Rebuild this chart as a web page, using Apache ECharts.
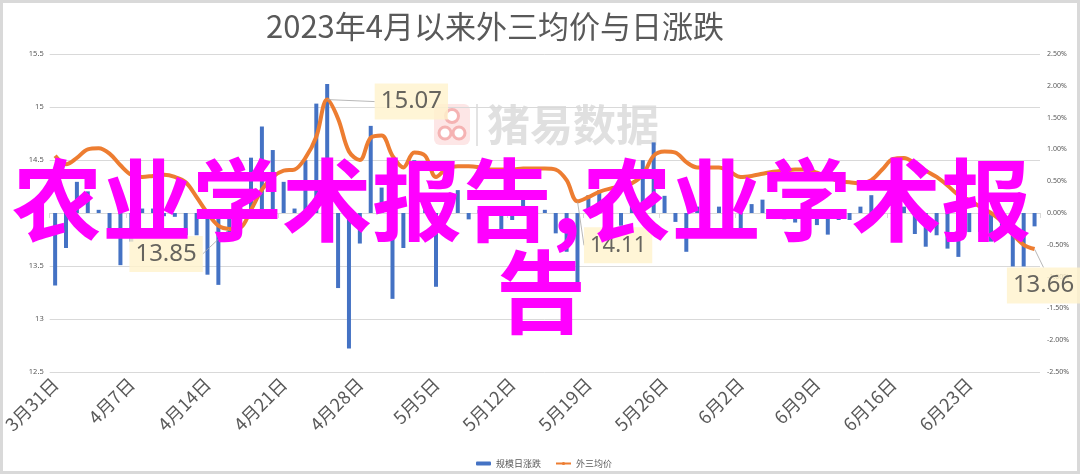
<!DOCTYPE html>
<html>
<head>
<meta charset="utf-8">
<script src="https://cdn.jsdelivr.net/npm/echarts@6/dist/echarts.min.js"></script>
<style>
html,body{margin:0;padding:0;background:#fff;}
#chart{width:1080px;height:474px;}
</style>
</head>
<body>
<div id="chart"></div>
<script>
// ---- data ----
const categories = [
  '3月31日',
  '4月1日','4月2日','4月3日','4月4日','4月5日','4月6日','4月7日','4月8日','4月9日','4月10日',
  '4月11日','4月12日','4月13日','4月14日','4月15日','4月16日','4月17日','4月18日','4月19日','4月20日',
  '4月21日','4月22日','4月23日','4月24日','4月25日','4月26日','4月27日','4月28日','4月29日','4月30日',
  '5月1日','5月2日','5月3日','5月4日','5月5日','5月6日','5月7日','5月8日','5月9日','5月10日',
  '5月11日','5月12日','5月13日','5月14日','5月15日','5月16日','5月17日','5月18日','5月19日','5月20日',
  '5月21日','5月22日','5月23日','5月24日','5月25日','5月26日','5月27日','5月28日','5月29日','5月30日','5月31日',
  '6月1日','6月2日','6月3日','6月4日','6月5日','6月6日','6月7日','6月8日','6月9日','6月10日',
  '6月11日','6月12日','6月13日','6月14日','6月15日','6月16日','6月17日','6月18日','6月19日','6月20日',
  '6月21日','6月22日','6月23日','6月24日','6月25日','6月26日','6月27日','6月28日','6月29日'
];
// 外三均价 (元/公斤)
const priceAvg = [
  14.54,14.46,14.52,14.60,14.61,14.56,14.45,14.36,14.34,14.35,
  14.36,14.34,14.29,14.15,14.00,13.88,13.85,13.86,14.03,14.22,
  14.34,14.40,14.41,14.52,14.72,15.07,14.89,14.58,14.50,14.71,
  14.73,14.54,14.43,14.57,14.54,14.34,14.42,14.44,14.44,14.43,
  14.41,14.41,14.41,14.42,14.42,14.42,14.41,14.31,14.11,14.15,
  14.20,14.23,14.25,14.28,14.36,14.54,14.58,14.57,14.48,14.43,
  14.43,14.43,14.39,14.34,14.35,14.37,14.39,14.40,14.41,14.41,
  14.38,14.34,14.30,14.29,14.28,14.31,14.41,14.51,14.52,14.47,
  14.40,14.34,14.26,14.17,14.12,14.06,14.00,13.92,13.80,13.70,
  13.66
];
// 规模日涨跌 (%)
const dailyChange = [
  -1.14,-0.55,0.49,0.34,0.05,-0.35,-0.82,-0.45,0.07,0.07,
  -0.05,-0.06,-0.35,-0.35,-0.97,-1.13,-0.30,0.20,0.87,1.36,
  0.99,0.49,0.07,0.83,1.72,2.03,-1.18,-2.13,-0.48,1.37,
  0.40,-1.35,-0.55,0.83,0.20,-1.16,0.20,0.36,-0.10,0.05,
  0.07,-0.27,-0.11,0.30,0.10,0.05,-0.32,-0.61,-1.24,0.28,
  0.36,0.14,-0.20,0.30,0.83,1.11,0.27,-0.14,-0.61,0.10,
  -0.20,0.10,-0.27,-0.27,0.14,0.21,0.05,-0.10,-0.15,0.05,
  -0.19,-0.34,-0.11,-0.11,0.10,0.28,0.15,0.62,0.10,-0.33,
  -0.53,-0.35,-0.56,-0.69,-0.30,-0.30,-0.45,-0.30,-0.84,-0.84,
  -0.21
];
const labeledDays = ['4月25日','4月16日','5月18日','6月29日'];
const seriesNames = ['规模日涨跌','外三均价'];
const titleText = '2023年4月以来外三均价与日涨跌';
const watermarkText = '猪易数据';
const overlayLine1 = '农业学术报告,农业学术报';
const overlayLine2 = '告';

// ---- chart ----
const chart = echarts.init(document.getElementById('chart'), null, {renderer: 'canvas'});
const CJK = '"Noto Sans CJK SC", "Noto Sans", sans-serif';
const axisText = '#595959';
const gridColor = '#d9d9d9';

const labelStyles = [
  {position: 'right', fontSize: 24, dx: 42, dy: 2},
  {position: 'left', fontSize: 24, dx: -21, dy: 25},
  {position: 'right', fontSize: 22, dx: 1, dy: 44},
  {position: 'bottom', fontSize: 24, dx: 9, dy: 13}
];

const annotData = labeledDays.map((d, k) => ({
  value: [d, priceAvg[categories.indexOf(d)]],
  label: {
    show: true,
    position: labelStyles[k].position,
    distance: 5,
    fontSize: labelStyles[k].fontSize,
    lineHeight: 26,
    fontFamily: '"Noto Sans", sans-serif',
    color: '#404040',
    backgroundColor: '#fff2cc',
    padding: [5, 6],
    formatter: p => p.value[1].toFixed(2)
  }
}));

const option = {
  animation: false,
  backgroundColor: '#ffffff',
  title: {
    text: titleText,
    left: 261,
    top: 6,
    textStyle: {fontSize: 31, fontWeight: 'normal', color: '#595959', fontFamily: CJK}
  },
  legend: {
    data: seriesNames,
    left: 471,
    top: 454,
    itemWidth: 15,
    itemHeight: 4,
    itemGap: 14,
    textStyle: {fontSize: 9, color: axisText, fontFamily: CJK}
  },
  grid: {left: 49, right: 40, top: 54, bottom: 102},
  xAxis: {
    type: 'category',
    data: categories,
    boundaryGap: true,
    axisLine: {lineStyle: {color: gridColor, width: 1}},
    axisTick: {show: true, interval: 6, length: 5, lineStyle: {color: gridColor}},
    axisLabel: {
      interval: 6, rotate: 45, margin: 9,
      fontSize: 18, color: axisText, fontFamily: CJK
    },
    splitLine: {show: false}
  },
  yAxis: [
    {
      type: 'value', min: 12.5, max: 15.5, interval: 0.5,
      axisLine: {show: false}, axisTick: {show: false},
      axisLabel: {fontSize: 7.5, color: axisText, margin: 6, fontFamily: '"Noto Sans", sans-serif'},
      splitLine: {lineStyle: {color: gridColor, width: 1}}
    },
    {
      type: 'value', min: -2.5, max: 2.5, interval: 0.5,
      axisLine: {show: false}, axisTick: {show: false},
      axisLabel: {fontSize: 7, color: axisText, margin: 7, fontFamily: '"Noto Sans", sans-serif',
        formatter: v => v.toFixed(2) + '%'},
      splitLine: {show: false}
    }
  ],
  series: [
    {
      name: seriesNames[0], type: 'bar', yAxisIndex: 1,
      data: dailyChange, barWidth: 4,
      itemStyle: {color: '#4472c4'}, z: 2
    },
    {
      name: seriesNames[1], type: 'line', yAxisIndex: 0,
      data: priceAvg, smooth: 0.35, symbol: 'none',
      lineStyle: {color: '#ed7d31', width: 4},
      itemStyle: {color: '#ed7d31'}, z: 3
    },
    {
      name: 'annot', type: 'scatter', yAxisIndex: 0,
      data: annotData, symbolSize: 1,
      itemStyle: {color: 'rgba(0,0,0,0)'},
      labelLine: {show: true, lineStyle: {color: '#a6a6a6', width: 0.8}},
      labelLayout: p => ({dx: labelStyles[p.dataIndex].dx, dy: labelStyles[p.dataIndex].dy}),
      z: 5, silent: true
    }
  ],
  graphic: [
    {type: 'rect', z: 0, shape: {x: 1.5, y: 1.5, width: 1077, height: 471}, style: {fill: 'none', stroke: '#d9d9d9', lineWidth: 3}},
    {type: 'rect', z: 0, shape: {x: 434, y: 104, width: 36, height: 41, r: 6}, style: {fill: '#fde6e6'}},
    {type: 'circle', z: 0, shape: {cx: 452, cy: 116, r: 6.5}, style: {fill: '#fff', stroke: '#f5b3b3', lineWidth: 3}},
    {type: 'circle', z: 0, shape: {cx: 445, cy: 133, r: 6}, style: {fill: '#fff', stroke: '#f5b3b3', lineWidth: 3}},
    {type: 'circle', z: 0, shape: {cx: 459, cy: 133, r: 6}, style: {fill: '#fff', stroke: '#f5b3b3', lineWidth: 3}},
    {type: 'line', z: 0, shape: {x1: 477, y1: 104, x2: 477, y2: 146}, style: {stroke: '#e3e3e3', lineWidth: 2}},
    {type: 'text', z: 0, x: 487, y: 125, style: {text: watermarkText, fontSize: 43, fontWeight: 'bold', fill: '#e0e0e0', fontFamily: CJK, verticalAlign: 'middle'}},
    {type: 'text', z: 100, x: 12, y: 200, style: {text: overlayLine1, fontSize: 90, fontWeight: 'bold', fill: '#ff00ff', fontFamily: CJK, verticalAlign: 'middle', align: 'left'}},
    {type: 'text', z: 100, x: 541, y: 292, style: {text: overlayLine2, fontSize: 90, fontWeight: 'bold', fill: '#ff00ff', fontFamily: CJK, verticalAlign: 'middle', align: 'center'}}
  ]
};
chart.setOption(option);
</script>
</body>
</html>
